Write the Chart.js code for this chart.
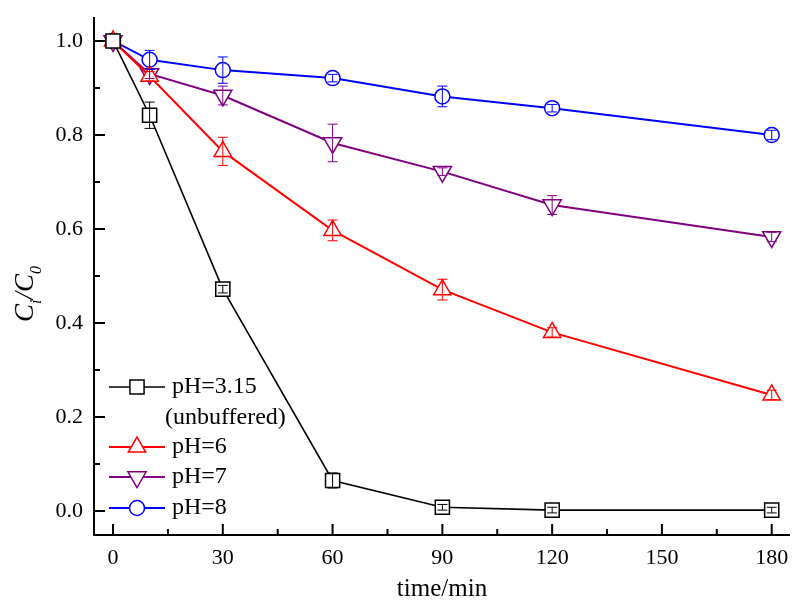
<!DOCTYPE html>
<html>
<head>
<meta charset="utf-8">
<script src="https://cdn.jsdelivr.net/npm/chart.js@4"></script>
<style>
  body { margin: 0; background: #fff; }
  #wrap { width: 792px; height: 601px; }
</style>
</head>
<body>
<div id="wrap"><canvas id="chart" width="792" height="601"></canvas></div>
<script>
// data
const times = [0, 10, 30, 60, 90, 120, 180];
const ph315 = [1.0, 0.842, 0.472, 0.065, 0.008, 0.002, 0.002];
const ph315Err = [0, 0.028, 0.008, 0.016, 0.006, 0.006, 0.006];
const ph6 = [1.0, 0.925, 0.765, 0.597, 0.471, 0.380, 0.247];
const ph6Err = [0, 0.01, 0.03, 0.022, 0.022, 0.01, 0.01];
const ph7 = [1.0, 0.930, 0.884, 0.783, 0.722, 0.651, 0.583];
const ph7Err = [0, 0.01, 0.02, 0.04, 0.008, 0.02, 0.01];
const ph8 = [1.0, 0.960, 0.938, 0.921, 0.882, 0.857, 0.800];
const ph8Err = [0, 0.02, 0.028, 0.008, 0.022, 0.008, 0.01];

const xTicks = [0, 30, 60, 90, 120, 150, 180];
const yTicks = [0, 0.2, 0.4, 0.6, 0.8, 1.0];
const legendLabels = [['pH=3.15', '(unbuffered)'], ['pH=6'], ['pH=7'], ['pH=8']];

const serif = "'Liberation Serif', 'Times New Roman', serif";

function pts(ys) {
  return times.map((t, i) => ({ x: t, y: ys[i] }));
}

function series(label, ys, errs, color, style, radius, rot, lw) {
  return {
    label: label,
    data: pts(ys),
    errors: errs,
    borderColor: color,
    borderWidth: lw,
    pointStyle: style,
    pointRadius: radius,
    pointHoverRadius: radius,
    pointRotation: rot,
    pointBorderWidth: 1.5,
    pointBorderColor: color,
    pointBackgroundColor: '#fff',
    tension: 0,
    fill: false
  };
}

const datasets = [
  series('pH=3.15', ph315, ph315Err, '#000000', 'rect', 10, 0, 1.6),
  series('pH=6', ph6, ph6Err, '#ff0000', 'triangle', 10, 0, 2),
  series('pH=7', ph7, ph7Err, '#800080', 'triangle', 10.5, 180, 2),
  series('pH=8', ph8, ph8Err, '#0000ff', 'circle', 7.5, 0, 2)
];

// error bars
const errorBars = {
  id: 'errorBars',
  afterDatasetsDraw(chart) {
    const ctx = chart.ctx;
    const ys = chart.scales.y;
    chart.data.datasets.forEach((ds, di) => {
      const meta = chart.getDatasetMeta(di);
      ctx.save();
      ctx.strokeStyle = ds.borderColor;
      ctx.lineWidth = 1;
      meta.data.forEach((pt, i) => {
        const e = ds.errors[i];
        if (!e) return;
        const v = ds.data[i].y;
        const top = ys.getPixelForValue(v + e);
        const bot = ys.getPixelForValue(v - e);
        const x = pt.x;
        ctx.beginPath();
        ctx.moveTo(x, top); ctx.lineTo(x, bot);
        ctx.moveTo(x - 5, top); ctx.lineTo(x + 5, top);
        ctx.moveTo(x - 5, bot); ctx.lineTo(x + 5, bot);
        ctx.stroke();
      });
      ctx.restore();
    });
  }
};

// axis lines, inward ticks, titles and legend
const decor = {
  id: 'decor',
  afterDraw(chart) {
    const ctx = chart.ctx;
    const a = chart.chartArea;
    const xs = chart.scales.x, ys = chart.scales.y;
    ctx.save();
    ctx.strokeStyle = '#000';
    ctx.lineWidth = 2;
    ctx.beginPath();
    ctx.moveTo(a.left, a.top); ctx.lineTo(a.left, a.bottom + 1);
    ctx.moveTo(a.left - 1, a.bottom); ctx.lineTo(a.right, a.bottom);
    // x ticks
    xTicks.forEach((v, i) => {
      const px = xs.getPixelForValue(v);
      ctx.moveTo(px, a.bottom); ctx.lineTo(px, a.bottom - 11);
      if (i < xTicks.length - 1) {
        const mx = xs.getPixelForValue((v + xTicks[i + 1]) / 2);
        ctx.moveTo(mx, a.bottom); ctx.lineTo(mx, a.bottom - 6);
      }
    });
    // y ticks
    yTicks.forEach((v, i) => {
      const py = ys.getPixelForValue(v);
      ctx.moveTo(a.left, py); ctx.lineTo(a.left + 11, py);
      if (i < yTicks.length - 1) {
        const my = ys.getPixelForValue((v + yTicks[i + 1]) / 2);
        ctx.moveTo(a.left, my); ctx.lineTo(a.left + 6, my);
      }
    });
    ctx.stroke();

    // x title
    ctx.fillStyle = '#000';
    ctx.font = '25px ' + serif;
    ctx.textAlign = 'center';
    ctx.textBaseline = 'alphabetic';
    ctx.fillText('time/min', (a.left + a.right) / 2, 596);

    // y title C_i/C_0 rotated
    const big = 'italic 27px ' + serif, small = 'italic 16px ' + serif;
    const parts = [['C', big, 0], ['i', small, 8], ['/', big, 0], ['C', big, 0], ['0', small, 8]];
    let total = 0;
    parts.forEach(p => { ctx.font = p[1]; total += ctx.measureText(p[0]).width; });
    ctx.translate(33, 294);
    ctx.rotate(-Math.PI / 2);
    ctx.textAlign = 'left';
    let cx = -total / 2;
    parts.forEach(p => {
      ctx.font = p[1];
      ctx.fillText(p[0], cx, p[2]);
      cx += ctx.measureText(p[0]).width;
    });
    ctx.restore();

    // legend
    ctx.save();
    const rows = [387, 447, 477, 508];
    const textRows = [[387, 418], [447], [477], [508]];
    chart.data.datasets.forEach((ds, i) => {
      const y = rows[i];
      ctx.strokeStyle = ds.borderColor;
      ctx.lineWidth = ds.borderWidth;
      ctx.beginPath();
      ctx.moveTo(109, y); ctx.lineTo(165, y);
      ctx.stroke();
      ctx.fillStyle = '#fff';
      ctx.lineWidth = 1.5;
      Chart.helpers.drawPoint(ctx, {
        pointStyle: ds.pointStyle, radius: ds.pointRadius,
        rotation: ds.pointRotation, borderWidth: 1.5
      }, 137, y);
      ctx.fillStyle = '#000';
      ctx.font = '24px ' + serif;
      ctx.textAlign = 'left';
      ctx.textBaseline = 'middle';
      legendLabels[i].forEach((t, k) => ctx.fillText(t, k === 0 ? 172 : 165, textRows[i][k]));
    });
    ctx.restore();
  }
};

function noPad(s) {
  s.paddingLeft = 0; s.paddingRight = 0; s.paddingTop = 0; s.paddingBottom = 0;
}

new Chart(document.getElementById('chart'), {
  type: 'line',
  data: { datasets: datasets },
  plugins: [errorBars, decor],
  options: {
    responsive: false,
    animation: false,
    layout: { autoPadding: false, padding: { top: 17, right: 2, left: 0, bottom: 0 } },
    plugins: { legend: { display: false }, tooltip: { enabled: false } },
    scales: {
      x: {
        type: 'linear',
        min: -5.2,
        max: 185,
        grid: { display: false, drawTicks: false },
        border: { display: false },
        afterBuildTicks: (s) => { s.ticks = xTicks.map(v => ({ value: v })); },
        afterFit: (s) => { s.height = 66; noPad(s); },
        ticks: {
          padding: 10,
          color: '#000',
          font: { family: serif, size: 22 },
          callback: (v) => String(v)
        }
      },
      y: {
        min: -0.051,
        max: 1.051,
        grid: { display: false, drawTicks: false },
        border: { display: false },
        afterBuildTicks: (s) => { s.ticks = yTicks.map(v => ({ value: v })); },
        afterFit: (s) => { s.width = 94; noPad(s); },
        ticks: {
          padding: 11,
          color: '#000',
          font: { family: serif, size: 22 },
          callback: (v) => Number(v).toFixed(1)
        }
      }
    }
  }
});
</script>
</body>
</html>
